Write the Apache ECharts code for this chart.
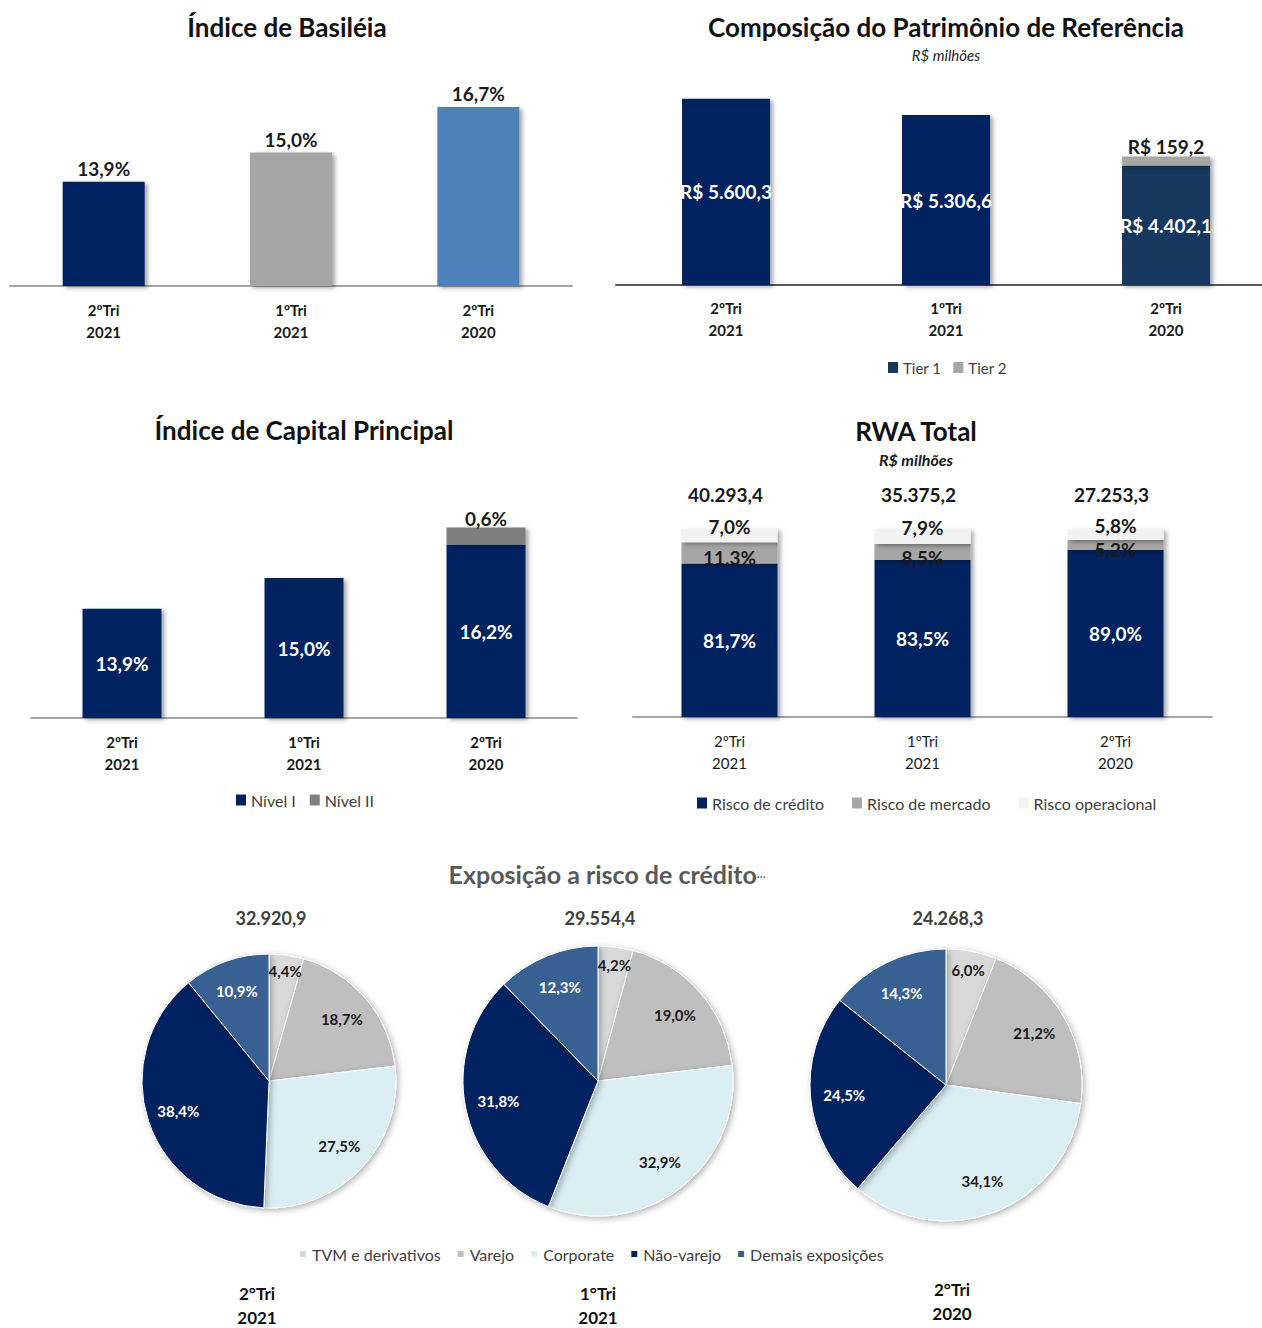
<!DOCTYPE html>
<html>
<head>
<meta charset="utf-8">
<script src="https://cdn.jsdelivr.net/npm/echarts@6/dist/echarts.min.js"></script>
<style>
  html, body { margin: 0; padding: 0; background: #fff; }
  #main { width: 1262px; height: 1328px; }
</style>
</head>
<body>
<div id="main"></div>
<script>
// dados
const quarters = ['2ºTri\n2021', '1ºTri\n2021', '2ºTri\n2020'];
const basileia = [13.9, 15.0, 16.7];
const tier1 = [5600.3, 5306.6, 4402.1];
const tier2 = [0, 0, 159.2];
const nivel1 = [13.9, 15.0, 16.2];
const nivel2 = [0, 0, 0.6];
const riscoCredito = [81.7, 83.5, 89.0];
const riscoMercado = [11.3, 8.5, 5.2];
const riscoOperacional = [7.0, 7.9, 5.8];
const rwaTotal = [40293.4, 35375.2, 27253.3];
const exposicaoCats = ['TVM e derivativos', 'Varejo', 'Corporate', 'Não-varejo', 'Demais exposições'];
const exposicao2T21 = [4.4, 18.7, 27.5, 38.4, 10.9];
const exposicao1T21 = [4.2, 19.0, 32.9, 31.8, 12.3];
const exposicao2T20 = [6.0, 21.2, 34.1, 24.5, 14.3];
const exposicaoTotal = [32920.9, 29554.4, 24268.3];
const pieQuarters = ['2°Tri\n2021', '1°Tri\n2021', '2°Tri\n2020'];

// cores
const navy = '#002060';
const basileiaColors = [navy, '#a6a6a6', '#4f81bd'];
const tier1Colors = [navy, navy, '#17375e'];
const pieColors = ['#d9d9d9', '#bfbfbf', '#dbeef4', navy, '#376092'];
const pieLabelColors = ['#1a1a1a', '#1a1a1a', '#1a1a1a', '#fff', '#fff'];

const font = 'Lato, "Open Sans", sans-serif';

function fmtBR(v, d) {
  const parts = v.toFixed(d).split('.');
  parts[0] = parts[0].replace(/\B(?=(\d{3})+(?!\d))/g, '.');
  return parts.join(',');
}
const pct = v => fmtBR(v, 1) + '%';

const chart = echarts.init(document.getElementById('main'), null, { renderer: 'svg' });

const barShadow = { shadowColor: 'rgba(0,0,0,0.35)', shadowBlur: 4, shadowOffsetX: 3, shadowOffsetY: 2 };
const lblDark = { fontFamily: font, fontSize: 19, fontWeight: 'bold', color: '#1a1a1a' };
const lblWhite = { fontFamily: font, fontSize: 19, fontWeight: 'bold', color: '#fff' };
const titleStyle = { fontFamily: font, fontSize: 26, fontWeight: 'bold', color: '#111' };
const legendText = { fontFamily: font, fontSize: 15, color: '#404040' };
const legendText16 = { fontFamily: font, fontSize: 16, color: '#404040' };

const axisX = (grid, bold, lineColor, margin) => ({
  type: 'category', gridIndex: grid, data: quarters,
  axisLine: { lineStyle: { color: lineColor, width: 2 } },
  axisTick: { show: false },
  axisLabel: {
    interval: 0, fontFamily: font, fontSize: 15, fontWeight: bold ? 'bold' : 'normal',
    color: '#1a1a1a', lineHeight: 22, margin: margin
  }
});

const pies = [
  { vals: exposicao2T21, center: [269, 1081], r: 127 },
  { vals: exposicao1T21, center: [598, 1081], r: 135 },
  { vals: exposicao2T20, center: [946, 1085], r: 136 }
];

const pieSeries = pies.map(p => ({
  type: 'pie', center: p.center, radius: [0, p.r], startAngle: 90, clockwise: true,
  label: { show: false }, labelLine: { show: false }, emphasis: { scale: false },
  itemStyle: { borderColor: '#fff', borderWidth: 1, shadowColor: 'rgba(0,0,0,0.3)', shadowBlur: 6, shadowOffsetX: 2, shadowOffsetY: 2 },
  data: exposicaoCats.map((n, i) => ({ name: n, value: p.vals[i], itemStyle: { color: pieColors[i] } }))
}));

// anel transparente só para posicionar os rótulos mais perto da borda
const pieLabelSeries = pies.map(p => ({
  type: 'pie', center: p.center, radius: [p.r * 0.46, p.r], startAngle: 90, clockwise: true,
  silent: true, avoidLabelOverlap: false, labelLine: { show: false },
  itemStyle: { color: 'rgba(0,0,0,0)' },
  label: { show: true, position: 'inside', fontFamily: font, fontSize: 15, fontWeight: 'bold', formatter: q => pct(q.value) },
  data: exposicaoCats.map((n, i) => ({
    name: n, value: p.vals[i],
    label: i === 0 ? { color: pieLabelColors[i], offset: [3, -15] } : { color: pieLabelColors[i] }
  }))
}));

const option = {
  animation: false,
  textStyle: { fontFamily: font },
  title: [
    { text: 'Índice de Basiléia', left: 287, top: 14, textAlign: 'center', padding: 0, textStyle: titleStyle },
    { text: 'Composição do Patrimônio de Referência', left: 946, top: 14, textAlign: 'center', padding: 0, textStyle: titleStyle },
    { text: 'R$ milhões', left: 946, top: 47, textAlign: 'center', padding: 0,
      textStyle: { fontFamily: font, fontSize: 15, fontStyle: 'italic', fontWeight: 'normal', color: '#262626' } },
    { text: 'Índice de Capital Principal', left: 304, top: 417, textAlign: 'center', padding: 0, textStyle: titleStyle },
    { text: 'RWA Total', left: 916, top: 418, textAlign: 'center', padding: 0, textStyle: titleStyle },
    { text: 'R$ milhões', left: 916, top: 451, textAlign: 'center', padding: 0,
      textStyle: { fontFamily: font, fontSize: 16, fontStyle: 'italic', fontWeight: 'bold', color: '#1a1a1a' } },
    { text: 'Exposição a risco de crédito{s|…}', left: 607, top: 861, textAlign: 'center', padding: 0,
      textStyle: { fontFamily: font, fontSize: 25, fontWeight: 'bold', color: '#595959',
        rich: { s: { fontFamily: font, fontSize: 11, fontWeight: 'bold', color: '#595959' } } } }
  ].concat(exposicaoTotal.map((t, i) => ({
    text: fmtBR(t, 1), left: pies[i].center[0] + 2, top: 909, textAlign: 'center', padding: 0,
    textStyle: { fontFamily: font, fontSize: 18, fontWeight: 'bold', color: '#404040' }
  }))).concat(pieQuarters.map((q, i) => ({
    text: q, left: [257, 598, 952][i], top: i === 2 ? 1277 : 1281, textAlign: 'center', padding: 0,
    textStyle: { fontFamily: font, fontSize: 17, fontWeight: 'bold', color: '#111', lineHeight: 24 }
  }))),
  legend: [
    { data: ['Tier 1', 'Tier 2'], left: 888, top: 360, padding: 0, icon: 'rect', itemWidth: 10, itemHeight: 11, itemGap: 12, textStyle: legendText },
    { data: ['Nível I', 'Nível II'], left: 236, top: 792, padding: 0, icon: 'rect', itemWidth: 10, itemHeight: 11, itemGap: 14, textStyle: legendText16 },
    { data: ['Risco de crédito', 'Risco de mercado', 'Risco operacional'], left: 697, top: 795, padding: 0, icon: 'rect',
      itemWidth: 10, itemHeight: 11, itemGap: 28, textStyle: legendText16 },
    { data: exposicaoCats, left: 298, top: 1246, padding: 0, icon: 'rect', itemWidth: 8, itemHeight: 8, itemGap: 15, textStyle: legendText16 }
  ],
  grid: [
    { left: 10, top: 19, width: 562, height: 267, containLabel: false, outerBoundsMode: 'none' },
    { left: 616, top: 21, width: 660, height: 264, containLabel: false, outerBoundsMode: 'none' },
    { left: 31, top: 466, width: 546, height: 252, containLabel: false, outerBoundsMode: 'none' },
    { left: 633, top: 529, width: 579, height: 188, containLabel: false, outerBoundsMode: 'none' }
  ],
  xAxis: [
    axisX(0, true, '#a6a6a6', 13),
    axisX(1, true, '#595959', 12),
    axisX(2, true, '#a6a6a6', 13),
    axisX(3, false, '#a6a6a6', 13)
  ],
  yAxis: [
    { type: 'value', gridIndex: 0, min: 10, max: 20, show: false },
    { type: 'value', gridIndex: 1, min: 2250, max: 7000, show: false },
    { type: 'value', gridIndex: 2, min: 10, max: 19, show: false },
    { type: 'value', gridIndex: 3, min: 0, max: 100, show: false }
  ],
  series: [
    // Índice de Basiléia
    { name: 'Basiléia', type: 'bar', xAxisIndex: 0, yAxisIndex: 0, barWidth: 82,
      itemStyle: barShadow,
      data: basileia.map((v, i) => ({ value: v, itemStyle: { color: basileiaColors[i] } })),
      label: { show: true, position: 'top', distance: 4, ...lblDark, formatter: p => pct(p.value) } },
    // Patrimônio de Referência
    { name: 'Tier 1', type: 'bar', xAxisIndex: 1, yAxisIndex: 1, stack: 'pr', barWidth: 88,
      itemStyle: { color: '#17375e', ...barShadow },
      data: tier1.map((v, i) => ({ value: v, itemStyle: { color: tier1Colors[i] } })),
      label: { show: true, position: 'inside', ...lblWhite, formatter: p => 'R$ ' + fmtBR(p.value, 1) } },
    { name: 'Tier 2', type: 'bar', xAxisIndex: 1, yAxisIndex: 1, stack: 'pr', barWidth: 88,
      itemStyle: { color: '#a6a6a6', ...barShadow }, data: tier2,
      label: { show: true, position: 'top', distance: 1, ...lblDark, formatter: p => p.value ? 'R$ ' + fmtBR(p.value, 1) : '' } },
    // Capital Principal
    { name: 'Nível I', type: 'bar', xAxisIndex: 2, yAxisIndex: 2, stack: 'cp', barWidth: 79,
      itemStyle: { color: navy, ...barShadow }, data: nivel1,
      label: { show: true, position: 'inside', ...lblWhite, formatter: p => pct(p.value) } },
    { name: 'Nível II', type: 'bar', xAxisIndex: 2, yAxisIndex: 2, stack: 'cp', barWidth: 79,
      itemStyle: { color: '#7f7f7f', ...barShadow }, data: nivel2,
      label: { show: true, position: 'top', distance: 0, ...lblDark, formatter: p => p.value ? pct(p.value) : '' } },
    // RWA
    { name: 'Risco de crédito', type: 'bar', xAxisIndex: 3, yAxisIndex: 3, stack: 'rwa', barWidth: 96,
      itemStyle: { color: navy, ...barShadow }, data: riscoCredito,
      label: { show: true, position: 'inside', ...lblWhite, formatter: p => pct(p.value) } },
    { name: 'Risco de mercado', type: 'bar', xAxisIndex: 3, yAxisIndex: 3, stack: 'rwa', barWidth: 96,
      itemStyle: { color: '#a6a6a6', ...barShadow }, data: riscoMercado,
      label: { show: true, position: 'inside', offset: [0, 5], ...lblDark, formatter: p => pct(p.value) } },
    { name: 'Risco operacional', type: 'bar', xAxisIndex: 3, yAxisIndex: 3, stack: 'rwa', barWidth: 96,
      itemStyle: { color: '#f2f2f2', ...barShadow }, data: riscoOperacional,
      label: { show: true, position: 'inside', offset: [0, -9], ...lblDark, formatter: p => pct(p.value) } },
    { name: 'Total RWA', type: 'bar', xAxisIndex: 3, yAxisIndex: 3, stack: 'rwa', barWidth: 96,
      itemStyle: { color: 'rgba(0,0,0,0)' }, silent: true, data: quarters.map(() => 0),
      label: { show: true, position: 'top', distance: 25, offset: [-4, 0], ...lblDark, formatter: p => fmtBR(rwaTotal[p.dataIndex], 1) } }
  ].concat(pieSeries, pieLabelSeries)
};

chart.setOption(option);
</script>
</body>
</html>
